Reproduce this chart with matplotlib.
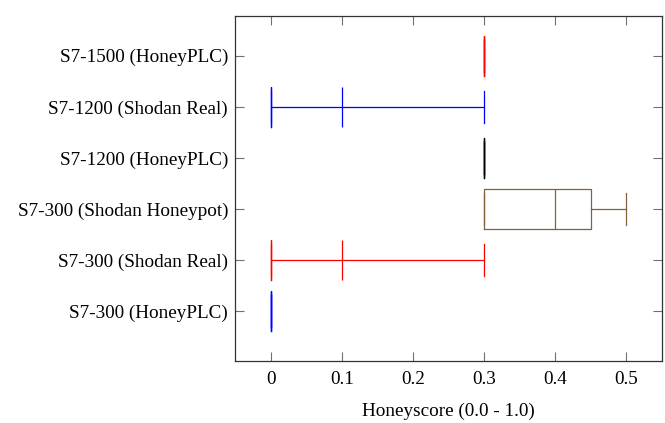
import matplotlib
matplotlib.use("Agg")
import matplotlib.pyplot as plt

categories = ["S7-300 (HoneyPLC)", "S7-300 (Shodan Real)", "S7-300 (Shodan Honeypot)",
              "S7-1200 (HoneyPLC)", "S7-1200 (Shodan Real)", "S7-1500 (HoneyPLC)"]
whislo = [0.0, 0.0, 0.3, 0.3, 0.0, 0.3]
q1 = [0.0, 0.0, 0.3, 0.3, 0.0, 0.3]
med = [0.0, 0.1, 0.4, 0.3, 0.1, 0.3]
q3 = [0.0, 0.0, 0.45, 0.3, 0.0, 0.3]
whishi = [0.0, 0.3, 0.5, 0.3, 0.3, 0.3]
colors = ["#0000ff", "#ff0000", "#85603c", "#000000", "#0000ff", "#ff0000"]
xticks = [0, 0.1, 0.2, 0.3, 0.4, 0.5]
xticklabels = ["0", "0.1", "0.2", "0.3", "0.4", "0.5"]
xlabel = "Honeyscore (0.0 - 1.0)"

plt.rcParams['font.family'] = ['Liberation Serif', 'DejaVu Serif']
fig = plt.figure(figsize=(6.65, 4.23), dpi=100)
ax = fig.add_axes([235/665, 1 - 361/423, (662-235)/665, (361-16)/423])

for i in range(len(categories)):
    st = [dict(whislo=whislo[i], q1=q1[i], med=med[i], q3=q3[i], whishi=whishi[i], fliers=[])]
    c = colors[i]
    lp = dict(color=c, linewidth=0.9)
    ax.bxp(st, positions=[i + 1], vert=False, widths=0.78, capwidths=0.63,
           boxprops=lp, medianprops=lp, whiskerprops=lp, capprops=lp,
           showfliers=False, manage_ticks=False)

ax.set_xlim(-0.05, 0.55)
ax.set_ylim(0.02, 6.78)
ax.set_xticks(xticks)
ax.set_xticklabels(xticklabels)
ax.set_yticks(range(1, len(categories) + 1))
ax.set_yticklabels(categories)
ax.tick_params(axis='both', direction='in', length=6.5, width=0.8, color='#707070',
               top=True, right=True, labelsize=13.8)
ax.tick_params(axis='y', pad=5)
ax.tick_params(axis='x', pad=7)
ax.set_xlabel(xlabel, fontsize=13.8, labelpad=11)
for s in ax.spines.values():
    s.set_color('#333333')
    s.set_linewidth(0.9)

fig.savefig("out.png", dpi=100)
